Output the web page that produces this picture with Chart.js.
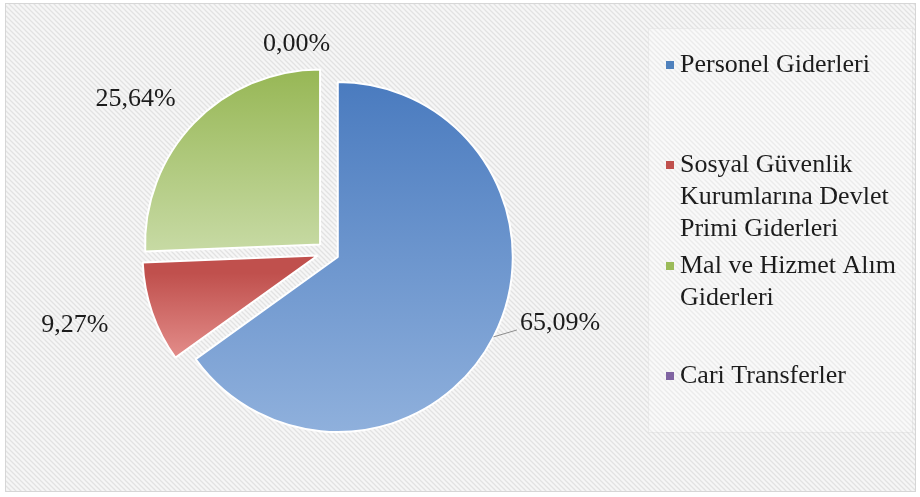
<!DOCTYPE html>
<html>
<head>
<meta charset="utf-8">
<script src="https://cdn.jsdelivr.net/npm/chart.js@4.4.0/dist/chart.umd.min.js"></script>
<style>
  html, body { margin: 0; padding: 0; background: #fff; }
  #wrap { position: relative; width: 920px; height: 497px; }
</style>
</head>
<body>
<div id="wrap"><canvas id="pie" width="920" height="497"></canvas></div>
<script>
// Harcama kalemlerinin dağılımı (pie, exploded slices, legend on the right).
const categories = [
  'Personel Giderleri',
  'Sosyal Güvenlik Kurumlarına Devlet Primi Giderleri',
  'Mal ve Hizmet Alım Giderleri',
  'Cari Transferler',
];
const shares = [65.09, 9.27, 25.64, 0.00];
const shareLabels = ['65,09%', '9,27%', '25,64%', '0,00%'];

const legendColors = ['#4f81bd', '#c0504d', '#9bbb59', '#8064a2'];
// gradient stops, as a fraction of the pie's height (top of circle = 0)
const gradStops = [
  [0.0, '#4a7bbf', 1.0, '#8fb0dc'],
  [0.55, '#c0504d', 0.8, '#e48f8c'],
  [0.0, '#97b755', 0.52, '#c7daa4'],
  [0.0, '#8064a2', 1.0, '#b3a2c7'],
];

const FONT = '"Liberation Serif", "Times New Roman", serif';
const R = 175;
const EXPLODE = 11; // every slice pulled out by the same distance

const $ = (id) => document.getElementById(id);

function hatchPattern(ctx) {
  const p = document.createElement('canvas');
  p.width = 5; p.height = 5;
  const g = p.getContext('2d');
  g.fillStyle = '#f6f6f6';
  g.fillRect(0, 0, 5, 5);
  g.strokeStyle = '#e2e2e2';
  g.lineWidth = 1.3;
  g.beginPath();
  g.moveTo(-1, -1); g.lineTo(6, 6);
  g.moveTo(-1, 4); g.lineTo(1, 6);
  g.moveTo(4, -1); g.lineTo(6, 1);
  g.stroke();
  return ctx.createPattern(p, 'repeat');
}

const backdrop = {
  id: 'backdrop',
  beforeDraw(chart) {
    const { ctx, width, height } = chart;
    ctx.save();
    ctx.fillStyle = '#ffffff';
    ctx.fillRect(0, 0, width, height);
    ctx.fillStyle = hatchPattern(ctx);
    ctx.fillRect(5, 3, width - 9, height - 8);
    ctx.strokeStyle = '#d6d6d6';
    ctx.lineWidth = 1;
    ctx.strokeRect(5.5, 3.5, width - 10, height - 9);
    // legend box, a touch lighter
    ctx.fillStyle = 'rgba(255,255,255,0.3)';
    ctx.fillRect(648, 28, 264, 404);
    ctx.strokeStyle = 'rgba(220,220,220,0.45)';
    ctx.strokeRect(648.5, 28.5, 264, 404);
    ctx.restore();
  },
};

// pull every arc out along its mid angle (the built-in offset also grows the radius)
const explode = {
  id: 'explode',
  beforeDatasetsDraw(chart) {
    chart.getDatasetMeta(0).data.forEach((arc) => {
      if (arc._exploded) return;
      const draw = arc.draw.bind(arc);
      arc.draw = function (ctx, area) {
        const mid = (this.startAngle + this.endAngle) / 2;
        ctx.save();
        ctx.translate(Math.cos(mid) * EXPLODE, Math.sin(mid) * EXPLODE);
        draw(ctx, area);
        ctx.restore();
      };
      arc._exploded = true;
    });
  },
};

const sliceLabels = {
  id: 'sliceLabels',
  afterDatasetsDraw(chart, args, opts) {
    const { ctx } = chart;
    const arcs = chart.getDatasetMeta(0).data;
    ctx.save();
    ctx.font = `26px ${FONT}`;
    ctx.fillStyle = '#1c1c1c';
    ctx.textAlign = 'center';
    ctx.textBaseline = 'alphabetic';
    arcs.forEach((arc, i) => {
      const tw = opts.tweak[i];
      const half = (arc.startAngle + arc.endAngle) / 2;
      const mid = half + tw.da * Math.PI / 180;
      const d = arc.outerRadius + tw.dr;
      const x = arc.x + Math.cos(mid) * d;
      const y = arc.y + Math.sin(mid) * d;
      ctx.fillText(shareLabels[i], x, y + 9);
      if (tw.leader) {
        const cx = arc.x + Math.cos(half) * EXPLODE;
        const cy = arc.y + Math.sin(half) * EXPLODE;
        const w = ctx.measureText(shareLabels[i]).width;
        ctx.strokeStyle = '#8c8c8c';
        ctx.lineWidth = 1;
        ctx.beginPath();
        ctx.moveTo(cx + Math.cos(half) * arc.outerRadius, cy + Math.sin(half) * arc.outerRadius);
        ctx.lineTo(x - w / 2 - 3, y + 9);
        ctx.stroke();
      }
    });
    ctx.restore();
  },
};

const sideLegend = {
  id: 'sideLegend',
  afterDraw(chart, args, opts) {
    const { ctx } = chart;
    ctx.save();
    ctx.font = `26px ${FONT}`;
    ctx.textAlign = 'left';
    ctx.textBaseline = 'middle';
    categories.forEach((name, i) => {
      // wrap to the legend width
      const lines = [];
      let cur = '';
      name.split(' ').forEach((w) => {
        const t = cur ? cur + ' ' + w : w;
        if (cur && ctx.measureText(t).width > opts.maxWidth) { lines.push(cur); cur = w; } else cur = t;
      });
      lines.push(cur);
      const y0 = opts.top[i];
      ctx.fillStyle = legendColors[i];
      ctx.fillRect(opts.x - 14, y0 - 4, 8, 8);
      ctx.fillStyle = '#1c1c1c';
      lines.forEach((ln, k) => ctx.fillText(ln, opts.x, y0 + k * opts.lineHeight));
    });
    ctx.restore();
  },
};

new Chart($('pie'), {
  type: 'pie',
  data: {
    labels: categories,
    datasets: [{
      data: shares,
      radius: R,
      borderColor: '#ffffff',
      borderWidth: 2,
      backgroundColor: (c) => {
        const chart = c.chart;
        const a = chart.chartArea;
        const s = gradStops[c.dataIndex];
        if (!a) return s[1];
        const cy = (a.top + a.bottom) / 2;
        const g = chart.ctx.createLinearGradient(0, cy - R, 0, cy + R);
        g.addColorStop(0, s[1]);
        g.addColorStop(s[0], s[1]);
        g.addColorStop(s[2], s[3]);
        g.addColorStop(1, s[3]);
        return g;
      },
    }],
  },
  options: {
    responsive: false,
    animation: false,
    layout: { padding: { left: 128, right: 392, top: 52, bottom: 45 } },
    plugins: {
      legend: { display: false },
      tooltip: { enabled: false },
      sliceLabels: {
        tweak: [
          { da: -10.6, dr: 67, leader: true },
          { da: 3.3, dr: 88 },
          { da: -5.0, dr: 72 },
          { da: -8.5, dr: 37 },
        ],
      },
      sideLegend: { x: 680, maxWidth: 228, lineHeight: 32, top: [65, 165, 266, 376] },
    },
  },
  plugins: [backdrop, explode, sliceLabels, sideLegend],
});
</script>
</body>
</html>
